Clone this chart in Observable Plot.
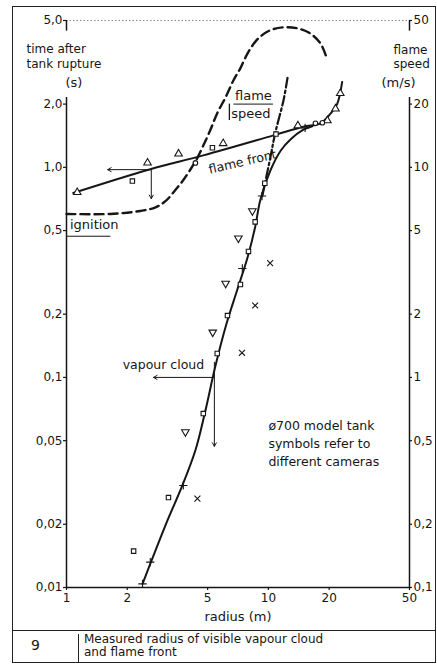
<!DOCTYPE html>
<html>
<head>
<meta charset="utf-8">
<script src="https://cdn.jsdelivr.net/npm/d3@7"></script>
<script src="https://cdn.jsdelivr.net/npm/@observablehq/plot@0.6"></script>
<style>
  body { margin: 0; background: #fff; }
  #fig { position: relative; width: 437px; height: 664px; font-family: "DejaVu Sans", sans-serif; color: #161616; overflow: hidden; }
  #chart { position: absolute; left: 0; top: 0; }
  .frame { position: absolute; left: 12px; top: 6px; width: 424px; height: 657px; border: 1.5px solid #222; box-sizing: border-box; pointer-events: none; }
  .cap { position: absolute; left: 12px; top: 630px; width: 424px; height: 33px; border-top: 1.5px solid #222; box-sizing: border-box; }
  .cap .num { position: absolute; left: 19px; top: 6px; font-size: 14px; }
  .cap .sep { position: absolute; left: 66px; top: 3px; width: 0; height: 29px; border-left: 1.5px solid #222; }
  .cap .txt { position: absolute; left: 72px; top: 2px; font-size: 12px; line-height: 13px; }
</style>
</head>
<body>
<div id="fig">
  <div id="chart"></div>
  <div class="frame"></div>
  <div class="cap">
    <span class="num">9</span>
    <div class="sep"></div>
    <div class="txt">Measured radius of visible vapour cloud<br>and flame front</div>
  </div>
</div>
<script>
// Axis ticks and their printed labels (decimal comma)
const radiusTicks = [1, 2, 5, 10, 20, 50];
const radiusLabels = ["1", "2", "5", "10", "20", "50"];
const timeTicks = [0.01, 0.02, 0.05, 0.1, 0.2, 0.5, 1, 2, 5];
const timeLabels = ["0,01", "0,02", "0,05", "0,1", "0,2", "0,5", "1,0", "2,0", "5,0"];
const speedTicks = [0.1, 0.2, 0.5, 1, 2, 5, 10, 20, 50];
const speedLabels = ["0,1", "0,2", "0,5", "1", "2", "5", "10", "20", "50"];

// Flame front: radius (m), time after rupture (s)
const flameFrontLine = [[1.08, 0.755], [2.6, 0.98], [4.76, 1.14], [10.6, 1.42], [14.9, 1.56], [18.1, 1.62], [20.3, 1.8], [21.9, 2.0], [23.2, 2.55]];
const frontTriangles = [[1.13, 0.76], [2.52, 1.05], [3.59, 1.16], [5.97, 1.3], [14.0, 1.58], [19.6, 1.67], [21.5, 1.9], [22.7, 2.25]];
const frontSquares = [[2.12, 0.86], [5.28, 1.24], [10.9, 1.44]];
const frontCircles = [[4.35, 1.05], [17.1, 1.62], [18.5, 1.63]];
const frontPluses = [[15.2, 1.54]];

// Visible vapour cloud: radius (m), time after rupture (s)
const vapourCloudLine = [[2.38, 0.0104], [3.16, 0.0208], [3.75, 0.0306], [4.35, 0.045], [4.85, 0.068], [5.45, 0.112], [6.2, 0.18], [7.0, 0.26], [7.87, 0.37], [8.6, 0.52], [9.12, 0.7], [10.2, 0.96], [11.5, 1.2], [12.9, 1.36], [14.9, 1.51], [16.5, 1.57]];
const cloudSquares = [[2.15, 0.0149], [3.2, 0.0268], [4.76, 0.0673], [5.58, 0.13], [6.27, 0.197], [7.27, 0.277], [7.97, 0.398], [8.6, 0.55], [9.6, 0.84]];
const cloudPluses = [[2.38, 0.0104], [2.6, 0.0132], [3.79, 0.0306], [7.43, 0.33], [9.3, 0.73]];
const cloudDownTriangles = [[3.88, 0.055], [5.3, 0.164], [6.14, 0.28], [7.1, 0.46], [8.33, 0.62]];
const cloudCrosses = [[4.45, 0.0265], [7.4, 0.131], [8.6, 0.22], [10.2, 0.35]];

// Flame speed: radius (m), speed (m/s)
const flameSpeed = [[1.0, 6.0], [1.65, 6.0], [2.32, 6.2], [2.76, 6.45], [3.09, 6.9], [3.46, 7.8], [3.79, 8.7], [4.09, 9.7], [4.43, 11.0], [4.76, 12.7], [5.15, 15.0], [5.58, 18.1], [6.13, 21.5], [6.71, 25.9], [7.26, 29.6], [7.94, 35.3], [8.92, 41.1], [10.2, 44.9], [11.9, 46.4], [13.9, 45.9], [16.1, 43.4], [18.1, 38.9], [19.4, 33.4]];
const flameSpeedLate = [[9.33, 7.3], [10.2, 11.0], [10.8, 14.5], [11.9, 21.0], [12.5, 27.5]];

// Speed (right axis) shares the time scale: 10 m/s sits at 1 s
const speedToTime = v => v / 10;
const X = d => d[0];
const T = d => d[1];
const S = d => speedToTime(d[1]);

const ink = "#161616";
const axisStroke = {stroke: ink, strokeWidth: 1.5};
const tickStroke = {stroke: ink, strokeWidth: 1.2};
const symbolStyle = {x: X, y: T, r: 2.8, stroke: ink, strokeWidth: 1.1, fill: "white"};
// tick length expressed as a factor on the log scales (about 3 px)
const tickX = 1.035, tickY = 1.034;

const chart = Plot.plot({
  width: 437,
  height: 630,
  marginLeft: 66,
  marginRight: 28,
  marginTop: 20,
  marginBottom: 43,
  x: {type: "log", domain: [1, 50], axis: null},
  y: {type: "log", domain: [0.01, 5], axis: null},
  style: {fontFamily: "DejaVu Sans", fontSize: "12px", color: ink, background: "transparent"},
  marks: [
    // top limit line, dotted
    Plot.ruleY([5], {x1: 1, x2: 50, stroke: "#888", strokeWidth: 1, strokeDasharray: "1.5,2"}),
    // axis lines (broken where the axis titles sit)
    Plot.ruleY([0.01], {x1: 1, x2: 50, ...axisStroke}),
    Plot.ruleX([1], {y1: 0.01, y2: 2.15, ...axisStroke}),
    Plot.ruleX([1], {y1: 4.45, y2: 5, ...axisStroke}),
    Plot.ruleX([50], {y1: 0.01, y2: 2.15, ...axisStroke}),
    Plot.ruleX([50], {y1: 4.45, y2: 5, ...axisStroke}),
    // ticks
    Plot.ruleX(radiusTicks, {x: d => d, y1: 0.01 / tickY, y2: 0.01, ...tickStroke}),
    Plot.ruleY(timeTicks, {y: d => d, x1: 1 / tickX, x2: 1, ...tickStroke}),
    Plot.ruleY(speedTicks, {y: d => speedToTime(d), x1: 50, x2: 50 * tickX, ...tickStroke}),
    // tick labels
    Plot.text(radiusTicks, {x: d => d, y: 0.01, text: (d, i) => radiusLabels[i], dy: 11}),
    Plot.text(timeTicks, {x: 1, y: d => d, text: (d, i) => timeLabels[i], textAnchor: "end", dx: -4}),
    Plot.text(speedTicks, {x: 50, y: d => speedToTime(d), text: (d, i) => speedLabels[i], textAnchor: "start", dx: 4}),
    // axis titles
    Plot.text(["radius (m)"], {frameAnchor: "bottom", dy: 33, fontSize: 13}),
    Plot.text(["time after"], {frameAnchor: "top-left", dx: -40, dy: 24, textAnchor: "start", fontSize: 12}),
    Plot.text(["tank rupture"], {frameAnchor: "top-left", dx: -40, dy: 38.5, textAnchor: "start", fontSize: 12}),
    Plot.text(["(s)"], {frameAnchor: "top-left", dx: -1, dy: 57, fontSize: 13}),
    Plot.text(["flame"], {frameAnchor: "top-right", dx: -16, dy: 25, textAnchor: "start", fontSize: 12}),
    Plot.text(["speed"], {frameAnchor: "top-right", dx: -16, dy: 39, textAnchor: "start", fontSize: 12}),
    Plot.text(["(m/s)"], {frameAnchor: "top-right", dx: 6, dy: 57, fontSize: 13}),

    // curves
    Plot.line(flameSpeed, {x: X, y: S, curve: "catmull-rom", stroke: ink, strokeWidth: 2.4, strokeDasharray: "9,5"}),
    Plot.line(flameSpeedLate, {x: X, y: S, curve: "catmull-rom", stroke: ink, strokeWidth: 2.2, strokeDasharray: "10,3,2.5,3"}),
    Plot.line(flameFrontLine, {x: X, y: T, curve: "catmull-rom", stroke: ink, strokeWidth: 2}),
    Plot.line(vapourCloudLine, {x: X, y: T, curve: "catmull-rom", stroke: ink, strokeWidth: 2}),

    // reading arrows
    Plot.arrow([0], {x1: 2.63, y1: 0.975, x2: 1.6, y2: 0.975, stroke: ink, strokeWidth: 1, headLength: 6}),
    Plot.arrow([0], {x1: 2.63, y1: 0.975, x2: 2.63, y2: 0.71, stroke: ink, strokeWidth: 1, headLength: 6}),
    Plot.arrow([0], {x1: 5.4, y1: 0.1, x2: 2.7, y2: 0.1, stroke: ink, strokeWidth: 1, headLength: 6}),
    Plot.arrow([0], {x1: 5.4, y1: 0.118, x2: 5.4, y2: 0.047, stroke: ink, strokeWidth: 1, headLength: 6}),

    // ignition marker
    Plot.ruleY([0.47], {x1: 1, x2: 1.66, stroke: ink, strokeWidth: 1}),
    Plot.text(["ignition"], {x: 1.04, y: 0.53, textAnchor: "start", fontSize: 13}),

    // flame speed label with bracket
    Plot.ruleY([speedToTime(20)], {x1: 6.75, x2: 10.6, stroke: ink, strokeWidth: 1}),
    Plot.ruleX([6.41], {y1: speedToTime(16.7), y2: speedToTime(20), stroke: ink, strokeWidth: 1.3}),
    Plot.text(["flame"], {x: 8.43, y: speedToTime(21.9), fontSize: 13}),
    Plot.text(["speed"], {x: 8.2, y: speedToTime(17.9), fontSize: 13}),

    Plot.text(["flame front"], {x: 7.45, y: 1.06, rotate: -13, fontSize: 12.5}),
    Plot.text(["vapour cloud"], {x: 3.02, y: 0.115, fontSize: 12.5}),
    Plot.text(["ø700 model tank\nsymbols refer to\ndifferent cameras"], {x: 10, y: 0.049, textAnchor: "start", lineHeight: 1.45, fontSize: 12.5}),

    // camera symbols
    Plot.dot(frontTriangles, {...symbolStyle, symbol: "triangle"}),
    Plot.dot(frontSquares, {...symbolStyle, symbol: "square", r: 2.5}),
    Plot.dot(frontCircles, {...symbolStyle, symbol: "circle", r: 2.3}),
    Plot.dot(frontPluses, {...symbolStyle, symbol: "plus", fill: "none"}),
    Plot.dot(cloudSquares, {...symbolStyle, symbol: "square", r: 2.5}),
    Plot.dot(cloudPluses, {...symbolStyle, symbol: "plus", fill: "none"}),
    Plot.dot(cloudDownTriangles, {...symbolStyle, symbol: "triangle", rotate: 180}),
    Plot.dot(cloudCrosses, {...symbolStyle, symbol: "times", fill: "none"})
  ]
});
document.getElementById("chart").append(chart);
</script>
</body>
</html>
